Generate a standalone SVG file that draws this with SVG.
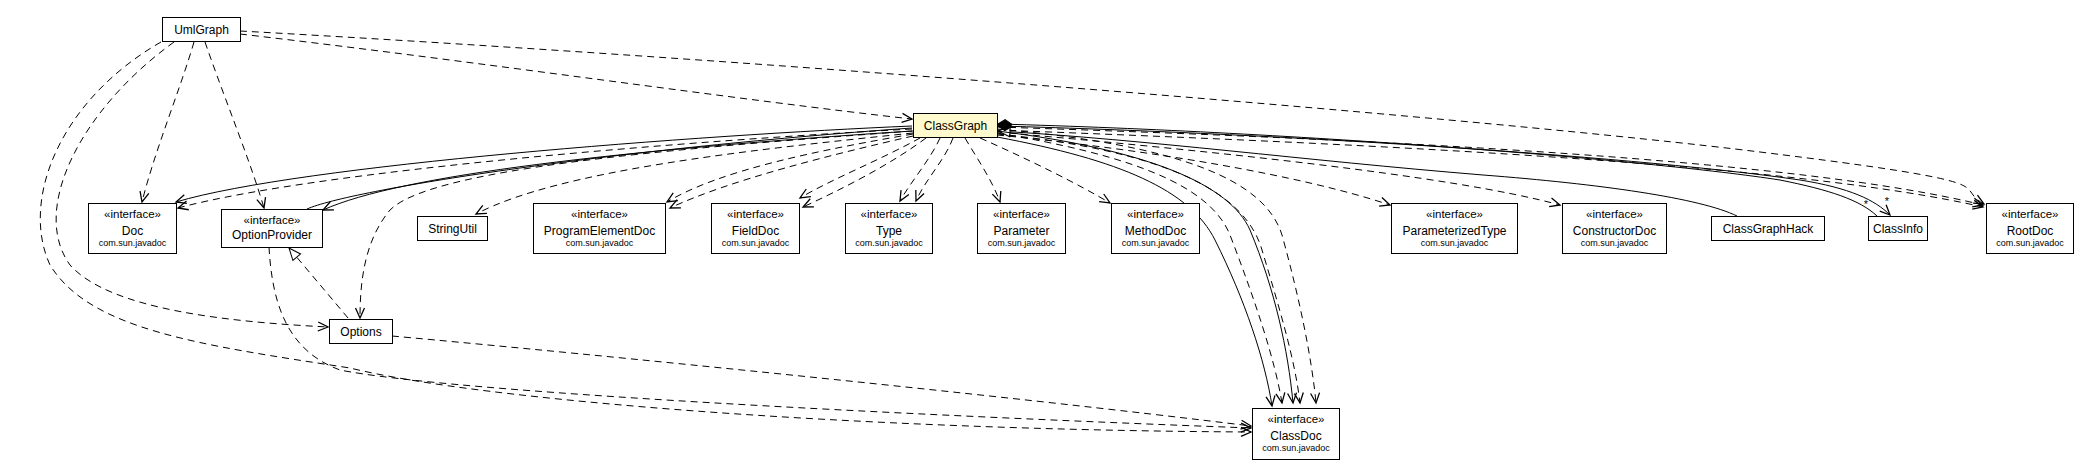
<svg xmlns="http://www.w3.org/2000/svg" width="2089" height="469" viewBox="0 0 2089 469">
<style>
  .box { fill: #ffffff; stroke: #000000; stroke-width: 1; }
  .focus { fill: #fffacd; stroke: #000000; stroke-width: 1; }
  text { font-family: "Liberation Sans", Arial, sans-serif; fill: #000000; text-anchor: middle; }
  .st { font-size: 11.5px; }
  .nm { font-size: 12px; }
  .pk { font-size: 9px; }
  .ml { font-size: 11px; }
  .e { fill: none; stroke: #000000; stroke-width: 1; }
  .d { stroke-dasharray: 7 5; }
  .dep { marker-end: url(#open); }
</style>
<defs>
  <marker id="open" viewBox="-12 -7 14 14" refX="0" refY="0" markerWidth="14" markerHeight="14" markerUnits="userSpaceOnUse" orient="auto">
    <path d="M-10,-4.5 L0,0 L-10,4.5" fill="none" stroke="#000" stroke-width="1.3"/>
  </marker>
  <marker id="tri" viewBox="-14 -7 16 14" refX="0" refY="0" markerWidth="16" markerHeight="14" markerUnits="userSpaceOnUse" orient="auto">
    <path d="M-12,-5 L0,0 L-12,5 Z" fill="#fff" stroke="#000" stroke-width="1"/>
  </marker>
  <marker id="dia" viewBox="-1 -6 17 12" refX="0" refY="0" markerWidth="17" markerHeight="12" markerUnits="userSpaceOnUse" orient="auto">
    <path d="M0,0 L7,-4.5 L14,0 L7,4.5 Z" fill="#000" stroke="#000" stroke-width="1"/>
  </marker>
</defs>

<g id="connectors">
  <!-- UmlGraph edges -->
  <path class="e d dep" d="M240,34 C 480,62 740,100 912,119"/>
  <path class="e d dep" d="M240,31 C 800,62 1500,120 1760,152 S 1950,185 1984,204"/>
  <path class="e d dep" d="M194,42 C 180,90 155,150 142,202"/>
  <path class="e d dep" d="M205,42 C 225,100 250,160 264,208"/>
  <path class="e d dep" d="M174,42 C 80,110 30,210 70,265 C 110,310 230,322 328,327"/>
  <path class="e d dep" d="M161,42 C 60,100 20,200 50,265 C 90,330 200,345 350,368 C 480,400 850,430 1251,432"/>
  <!-- OptionProvider / Options edges -->
  <path class="e d dep" d="M269,247 C 272,300 285,350 340,370 C 450,392 900,415 1251,428"/>
  <path class="e d dep" d="M392,336 C 600,355 1000,395 1251,426"/>
  <path class="e d" marker-end="url(#tri)" d="M348,318 L289,248"/>
  <!-- ClassGraph to the left -->
  <path class="e d dep" d="M913,131 C 650,150 430,170 390,210 C 365,240 360,280 360,318"/>
  <path class="e dep" d="M912,126 C 700,135 300,165 176,202"/>
  <path class="e d dep" d="M912,129 C 700,140 320,170 178,208"/>
  <path class="e" d="M307,209 C 350,190 600,150 912,128"/>
  <path class="e dep" d="M912,131 C 620,150 400,175 323,210"/>
  <path class="e d dep" d="M913,133 C 750,150 560,170 476,214"/>
  <path class="e d dep" d="M913,134 C 820,150 720,170 667,202"/>
  <path class="e d dep" d="M913,136 C 830,155 730,180 670,208"/>
  <path class="e d dep" d="M920,138 C 880,160 830,180 800,198"/>
  <path class="e d dep" d="M926,138 C 890,165 840,190 803,207"/>
  <!-- ClassGraph downwards -->
  <path class="e d dep" d="M940,138 C 930,160 912,180 900,201"/>
  <path class="e d dep" d="M953,138 C 945,160 925,180 916,201"/>
  <path class="e d dep" d="M965,138 C 978,160 992,180 1000,202"/>
  <path class="e d dep" d="M980,138 C 1030,160 1080,185 1110,203"/>
  <!-- ClassGraph to the right -->
  <path class="e d dep" d="M997,135 C 1150,150 1300,175 1390,205"/>
  <path class="e d dep" d="M997,132 C 1200,150 1450,175 1560,205"/>
  <path class="e d dep" d="M997,127 C 1400,140 1800,160 1983,205"/>
  <path class="e d dep" d="M997,130 C 1400,145 1800,165 1983,207"/>
  <path class="e" marker-end="url(#tri)" d="M1737,216 C 1700,198 1600,184 1483,175 C 1300,160 1150,140 998,131"/>
  <path class="e" marker-start="url(#dia)" d="M998,124 C 1300,132 1650,160 1780,180 C 1830,190 1860,200 1877,216"/>
  <path class="e dep" marker-start="url(#dia)" d="M998,126 C 1300,134 1650,158 1800,180 C 1850,188 1875,200 1890,215"/>
  <!-- ClassGraph to ClassDoc -->
  <path class="e dep" d="M997,137 C 1120,160 1190,190 1215,240 C 1245,300 1265,360 1272,406"/>
  <path class="e d dep" d="M997,133 C 1130,155 1210,185 1230,235 C 1255,300 1275,360 1282,403"/>
  <path class="e dep" d="M997,131 C 1150,150 1230,185 1250,230 C 1275,290 1288,350 1293,403"/>
  <path class="e d dep" d="M997,134 C 1160,150 1245,190 1262,250 C 1280,310 1295,360 1300,403"/>
  <path class="e d dep" d="M997,129 C 1180,145 1265,180 1282,235 C 1300,300 1312,360 1316,403"/>
  <text class="ml" x="1866" y="208">*</text>
  <text class="ml" x="1887" y="205">*</text>
</g>

<g id="UmlGraph"><rect class="box" x="162.5" y="17.5" width="78" height="24"/><text class="nm" x="201.5" y="33.5">UmlGraph</text></g>
<g id="ClassGraph"><rect class="focus" x="913.5" y="113.5" width="84" height="24"/><text class="nm" x="955.5" y="129.5">ClassGraph</text></g>
<g id="Doc"><rect class="box" x="88.5" y="203.5" width="88" height="50"/><text class="st" x="132.5" y="218">«interface»</text><text class="nm" x="132.5" y="234.5">Doc</text><text class="pk" x="132.5" y="246">com.sun.javadoc</text></g>
<g id="OptionProvider"><rect class="box" x="221.5" y="209.5" width="101" height="38"/><text class="st" x="272" y="223.5">«interface»</text><text class="nm" x="272" y="238.5">OptionProvider</text></g>
<g id="StringUtil"><rect class="box" x="417.5" y="216.5" width="70" height="24"/><text class="nm" x="452.5" y="232.5">StringUtil</text></g>
<g id="ProgramElementDoc"><rect class="box" x="533.5" y="203.5" width="132" height="50"/><text class="st" x="599.5" y="218">«interface»</text><text class="nm" x="599.5" y="234.5">ProgramElementDoc</text><text class="pk" x="599.5" y="246">com.sun.javadoc</text></g>
<g id="FieldDoc"><rect class="box" x="711.5" y="203.5" width="88" height="50"/><text class="st" x="755.5" y="218">«interface»</text><text class="nm" x="755.5" y="234.5">FieldDoc</text><text class="pk" x="755.5" y="246">com.sun.javadoc</text></g>
<g id="Type"><rect class="box" x="845.5" y="203.5" width="87" height="50"/><text class="st" x="889" y="218">«interface»</text><text class="nm" x="889" y="234.5">Type</text><text class="pk" x="889" y="246">com.sun.javadoc</text></g>
<g id="Parameter"><rect class="box" x="977.5" y="203.5" width="88" height="50"/><text class="st" x="1021.5" y="218">«interface»</text><text class="nm" x="1021.5" y="234.5">Parameter</text><text class="pk" x="1021.5" y="246">com.sun.javadoc</text></g>
<g id="MethodDoc"><rect class="box" x="1111.5" y="203.5" width="88" height="50"/><text class="st" x="1155.5" y="218">«interface»</text><text class="nm" x="1155.5" y="234.5">MethodDoc</text><text class="pk" x="1155.5" y="246">com.sun.javadoc</text></g>
<g id="ParameterizedType"><rect class="box" x="1391.5" y="203.5" width="126" height="50"/><text class="st" x="1454.5" y="218">«interface»</text><text class="nm" x="1454.5" y="234.5">ParameterizedType</text><text class="pk" x="1454.5" y="246">com.sun.javadoc</text></g>
<g id="ConstructorDoc"><rect class="box" x="1562.5" y="203.5" width="104" height="50"/><text class="st" x="1614.5" y="218">«interface»</text><text class="nm" x="1614.5" y="234.5">ConstructorDoc</text><text class="pk" x="1614.5" y="246">com.sun.javadoc</text></g>
<g id="ClassGraphHack"><rect class="box" x="1711.5" y="216.5" width="113" height="24"/><text class="nm" x="1768" y="232.5">ClassGraphHack</text></g>
<g id="ClassInfo"><rect class="box" x="1868.5" y="216.5" width="59" height="24"/><text class="nm" x="1898" y="232.5">ClassInfo</text></g>
<g id="RootDoc"><rect class="box" x="1986.5" y="203.5" width="87" height="50"/><text class="st" x="2030" y="218">«interface»</text><text class="nm" x="2030" y="234.5">RootDoc</text><text class="pk" x="2030" y="246">com.sun.javadoc</text></g>
<g id="Options"><rect class="box" x="329.5" y="319.5" width="63" height="24"/><text class="nm" x="361" y="335.5">Options</text></g>
<g id="ClassDoc"><rect class="box" x="1252.5" y="408.5" width="87" height="51"/><text class="st" x="1296" y="423">«interface»</text><text class="nm" x="1296" y="439.5">ClassDoc</text><text class="pk" x="1296" y="451">com.sun.javadoc</text></g>
</svg>
